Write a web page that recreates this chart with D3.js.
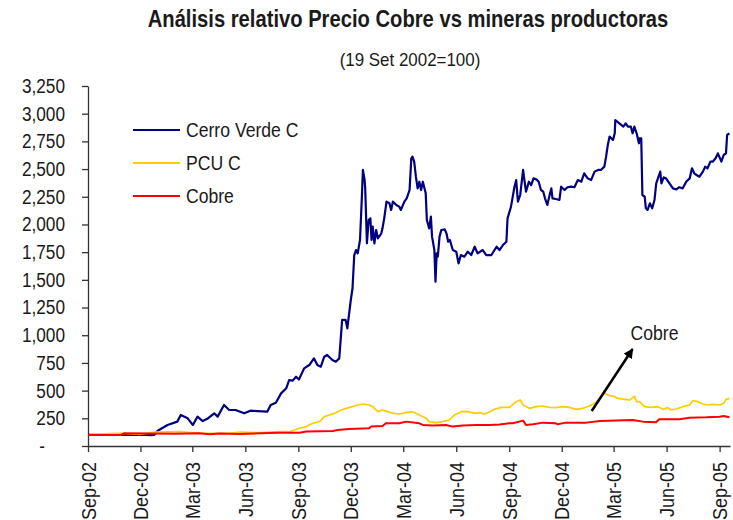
<!DOCTYPE html>
<html><head><meta charset="utf-8">
<script src="https://cdn.jsdelivr.net/npm/d3@7"></script>
<style>
body{margin:0;background:#fff}
svg text{font-family:"Liberation Sans Narrow","Arial Narrow","Liberation Sans",Arial,sans-serif;fill:#1a1a1a}
</style>
</head><body>
<svg id="chart" width="733" height="520"></svg>
<script>
const title = "Análisis relativo Precio Cobre vs mineras productoras";
const subtitle = "(19 Set 2002=100)";
const seriesNames = ["Cerro Verde C", "PCU C", "Cobre"];
const seriesColors = ["#000080", "#FFCC00", "#FF0000"];
const tickDates = ["2002-09-19","2002-12-19","2003-03-19","2003-06-19","2003-09-19","2003-12-19","2004-03-19","2004-06-19","2004-09-19","2004-12-19","2005-03-19","2005-06-19","2005-09-19"];
const tickLabels = ["Sep-02","Dec-02","Mar-03","Jun-03","Sep-03","Dec-03","Mar-04","Jun-04","Sep-04","Dec-04","Mar-05","Jun-05","Sep-05"];
const yTicks = [0,250,500,750,1000,1250,1500,1750,2000,2250,2500,2750,3000,3250];

const cvDates = ["2002-09-19","2002-11-15","2002-12-18","2003-01-06","2003-01-12","2003-01-18","2003-02-04","2003-02-21","2003-02-27","2003-03-11","2003-03-20","2003-03-28","2003-04-06","2003-04-14","2003-04-26","2003-05-02","2003-05-13","2003-05-22","2003-06-02","2003-06-17","2003-06-28","2003-07-10","2003-07-27","2003-08-02","2003-08-11","2003-08-20","2003-08-29","2003-09-03","2003-09-09","2003-09-15","2003-09-20","2003-09-29","2003-10-08","2003-10-16","2003-10-22","2003-10-28","2003-11-03","2003-11-08","2003-11-17","2003-11-23","2003-11-29","2003-12-04","2003-12-10","2003-12-13","2003-12-19","2003-12-22","2003-12-25","2003-12-28","2003-12-31","2004-01-04","2004-01-07","2004-01-09","2004-01-12","2004-01-13","2004-01-16","2004-01-19","2004-01-22","2004-01-24","2004-01-26","2004-01-29","2004-02-01","2004-02-04","2004-02-10","2004-02-12","2004-02-15","2004-02-19","2004-02-24","2004-02-27","2004-03-01","2004-03-07","2004-03-12","2004-03-15","2004-03-21","2004-03-25","2004-03-30","2004-04-02","2004-04-04","2004-04-07","2004-04-10","2004-04-13","2004-04-16","2004-04-19","2004-04-22","2004-04-27","2004-04-29","2004-05-03","2004-05-06","2004-05-08","2004-05-12","2004-05-14","2004-05-16","2004-05-18","2004-05-21","2004-05-24","2004-05-30","2004-06-02","2004-06-05","2004-06-08","2004-06-13","2004-06-19","2004-06-23","2004-06-27","2004-07-03","2004-07-09","2004-07-15","2004-07-21","2004-07-26","2004-08-04","2004-08-10","2004-08-19","2004-08-28","2004-09-02","2004-09-08","2004-09-14","2004-09-16","2004-09-22","2004-09-28","2004-10-01","2004-10-04","2004-10-08","2004-10-13","2004-10-16","2004-10-18","2004-10-23","2004-10-27","2004-10-31","2004-11-05","2004-11-09","2004-11-13","2004-11-17","2004-11-20","2004-11-24","2004-11-28","2004-12-01","2004-12-03","2004-12-09","2004-12-15","2004-12-18","2004-12-24","2004-12-29","2005-01-04","2005-01-10","2005-01-16","2005-01-22","2005-01-27","2005-02-02","2005-02-08","2005-02-14","2005-02-20","2005-02-25","2005-03-03","2005-03-06","2005-03-09","2005-03-12","2005-03-18","2005-03-21","2005-03-22","2005-03-29","2005-04-05","2005-04-09","2005-04-13","2005-04-18","2005-04-21","2005-04-24","2005-04-28","2005-05-02","2005-05-03","2005-05-06","2005-05-08","2005-05-12","2005-05-14","2005-05-17","2005-05-21","2005-05-25","2005-05-29","2005-06-01","2005-06-05","2005-06-08","2005-06-10","2005-06-14","2005-06-18","2005-06-24","2005-06-30","2005-07-06","2005-07-11","2005-07-17","2005-07-23","2005-07-29","2005-08-02","2005-08-06","2005-08-10","2005-08-15","2005-08-21","2005-08-25","2005-08-29","2005-09-03","2005-09-07","2005-09-12","2005-09-16","2005-09-22","2005-09-26","2005-09-30","2005-10-02","2005-10-06"];
const cvValues = [100,100,103,98,100,138,190,220,280,250,190,265,225,245,295,265,370,325,325,295,319,315,310,370,390,475,521,595,590,625,600,701,731,791,731,716,806,822,776,761,791,1138,1138,1062,1318,1424,1724,1769,1739,1860,2221,2492,2401,2326,1830,2040,2055,1860,1980,1830,1950,1875,1920,1965,2055,2206,2191,2131,2206,2176,2161,2131,2206,2236,2311,2597,2612,2567,2431,2326,2386,2311,2386,2281,2040,1965,2070,1890,1769,1483,1739,1709,1890,1950,1956,1920,1844,1860,1769,1754,1649,1724,1709,1754,1724,1799,1739,1769,1724,1724,1799,1769,1814,1844,2055,2161,2341,2401,2206,2266,2492,2371,2296,2386,2356,2416,2407,2386,2311,2296,2236,2176,2266,2326,2236,2230,2221,2341,2311,2336,2341,2336,2401,2386,2462,2416,2401,2477,2492,2492,2522,2612,2718,2793,2763,2823,2943,2913,2883,2913,2883,2883,2823,2883,2823,2733,2778,2778,2266,2251,2146,2131,2191,2146,2221,2371,2431,2477,2371,2425,2416,2371,2326,2316,2336,2326,2386,2416,2507,2462,2446,2431,2477,2522,2507,2567,2567,2597,2642,2567,2627,2642,2808,2823];

const pcuDates = ["2002-09-19","2002-10-23","2002-11-15","2002-12-18","2003-01-12","2003-02-26","2003-03-31","2003-05-23","2003-06-09","2003-07-14","2003-08-18","2003-09-05","2003-09-09","2003-09-21","2003-10-03","2003-10-14","2003-10-26","2003-11-03","2003-11-12","2003-11-21","2003-12-02","2003-12-11","2003-12-22","2003-12-31","2004-01-09","2004-01-20","2004-01-26","2004-02-04","2004-02-12","2004-02-21","2004-03-01","2004-03-12","2004-03-24","2004-04-04","2004-04-16","2004-04-28","2004-05-03","2004-05-15","2004-05-26","2004-06-07","2004-06-16","2004-06-27","2004-07-09","2004-07-21","2004-07-29","2004-08-07","2004-08-16","2004-08-24","2004-09-05","2004-09-19","2004-10-01","2004-10-08","2004-10-13","2004-10-24","2004-11-05","2004-11-16","2004-11-28","2004-12-09","2004-12-21","2005-01-01","2005-01-13","2005-01-24","2005-02-05","2005-02-14","2005-02-25","2005-03-03","2005-03-09","2005-03-18","2005-03-26","2005-04-07","2005-04-16","2005-04-24","2005-04-28","2005-05-03","2005-05-12","2005-05-23","2005-06-04","2005-06-13","2005-06-21","2005-06-27","2005-07-06","2005-07-17","2005-07-29","2005-08-03","2005-08-12","2005-08-21","2005-08-29","2005-09-07","2005-09-19","2005-09-26","2005-09-30","2005-10-06"];
const pcuValues = [100,112,115,105,125,130,115,115,125,120,130,130,138,160,175,205,220,265,280,295,325,340,355,370,379,370,355,310,325,310,295,289,301,310,280,250,220,211,220,235,280,310,310,295,301,289,310,331,349,349,400,415,370,340,355,361,349,346,355,349,331,340,361,385,439,481,460,451,430,421,415,451,400,400,355,349,355,331,346,325,334,355,370,409,400,379,370,376,370,385,421,430];

const cuDates = ["2002-09-19","2002-11-15","2002-11-21","2003-01-04","2003-02-16","2003-03-31","2003-04-18","2003-05-05","2003-06-09","2003-07-14","2003-08-18","2003-09-21","2003-10-03","2003-11-18","2003-11-26","2003-12-16","2004-01-20","2004-01-23","2004-02-12","2004-02-18","2004-03-12","2004-03-24","2004-04-16","2004-04-22","2004-05-09","2004-06-01","2004-06-13","2004-06-30","2004-07-24","2004-08-16","2004-09-02","2004-09-19","2004-09-25","2004-10-13","2004-10-18","2004-10-30","2004-11-16","2004-12-09","2004-12-12","2004-12-26","2005-01-31","2005-02-23","2005-04-21","2005-05-09","2005-06-01","2005-06-06","2005-07-11","2005-07-29","2005-08-27","2005-09-19","2005-09-26","2005-10-06"];
const cuValues = [100,100,115,112,110,115,105,112,108,115,120,120,130,135,144,153,160,175,181,205,205,220,205,190,184,190,175,184,190,190,195,205,205,229,190,196,211,205,196,211,211,226,235,220,214,241,241,256,259,265,271,259];

const annotText = "Cobre";
const annotFrom = ["2005-02-09", 316];
const annotTo = ["2005-04-21", 876];
const annotLabel = ["2005-05-29", 1020];

const parse = d3.timeParse("%Y-%m-%d");
const svg = d3.select("#chart");
const x = d3.scaleTime().domain([parse("2002-09-19"), parse("2005-10-07")]).range([88, 730]);
const y = d3.scaleLinear().domain([0, 3250]).range([446, 86]);

// Narrow-font look: squeeze text horizontally while keeping it as real text
function condense(sel, f) {
  sel.each(function () {
    const w = this.getComputedTextLength();
    this.setAttribute("textLength", (w * f).toFixed(1));
    this.setAttribute("lengthAdjust", "spacingAndGlyphs");
  });
}

// title: smaller font stretched vertically to mimic a narrow bold face
svg.append("text").attr("transform", "translate(408,27) scale(1,1.18)")
  .attr("text-anchor", "middle").attr("font-size", 20.2).attr("font-weight", "bold").text(title);
const tSub = svg.append("text").attr("x", 410).attr("y", 66).attr("text-anchor", "middle")
  .attr("font-size", 19).text(subtitle);

// axes
const yAxis = d3.axisLeft(y).tickValues(yTicks).tickSize(6).tickSizeOuter(0).tickPadding(17)
  .tickFormat(d => d === 0 ? "-" : d3.format(",")(d));
const gy = svg.append("g").attr("transform", "translate(88,0)").call(yAxis);
gy.selectAll("text").attr("font-size", 20).attr("font-family", null).style("fill", "#1a1a1a");
gy.selectAll(".tick").filter(d => d === 0).select("text").attr("dx", -20);
gy.selectAll("path,line").attr("stroke", "#333").attr("stroke-width", 1.3);

const xAxis = d3.axisBottom(x).tickValues(tickDates.map(parse)).tickSize(6).tickSizeOuter(0)
  .tickFormat((d, i) => tickLabels[i]);
const gx = svg.append("g").attr("transform", "translate(0,446)").call(xAxis);
gx.selectAll("text").attr("font-size", 20).attr("font-family", null).style("fill", "#1a1a1a")
  .attr("transform", "rotate(-90)").attr("text-anchor", "end")
  .attr("x", -16).attr("y", 0).attr("dy", "0.36em");
gx.selectAll("path,line").attr("stroke", "#333").attr("stroke-width", 1.3);

// series
const series = [
  {dates: cvDates, values: cvValues, w: 2.2},
  {dates: pcuDates, values: pcuValues, w: 1.7},
  {dates: cuDates, values: cuValues, w: 2}
];
const line = d3.line().x(d => x(d[0])).y(d => y(d[1]));
series.forEach((s, i) => {
  const pts = s.dates.map((d, j) => [parse(d), s.values[j]]);
  svg.append("path").datum(pts).attr("d", line).attr("fill", "none")
    .attr("stroke", seriesColors[i]).attr("stroke-width", s.w).attr("stroke-linejoin", "round");
});

// legend
const legY = [130, 163, 196];
const legTexts = [];
seriesNames.forEach((n, i) => {
  svg.append("line").attr("x1", 133).attr("x2", 180).attr("y1", legY[i]).attr("y2", legY[i])
    .attr("stroke", seriesColors[i]).attr("stroke-width", 2);
  legTexts.push(svg.append("text").attr("x", 186).attr("y", legY[i]).attr("dy", "0.36em")
    .attr("font-size", 20).text(n).node());
});

// annotation
svg.append("defs").append("marker").attr("id", "arr").attr("viewBox", "0 0 10 10")
  .attr("refX", 9).attr("refY", 5).attr("markerWidth", 4).attr("markerHeight", 4)
  .attr("orient", "auto").append("path").attr("d", "M0,0L10,5L0,10z").attr("fill", "#000");
svg.append("line")
  .attr("x1", x(parse(annotFrom[0]))).attr("y1", y(annotFrom[1]))
  .attr("x2", x(parse(annotTo[0]))).attr("y2", y(annotTo[1]))
  .attr("stroke", "#000").attr("stroke-width", 2.5).attr("marker-end", "url(#arr)");
const tAnn = svg.append("text").attr("x", x(parse(annotLabel[0]))).attr("y", y(annotLabel[1])).attr("dy", "0.36em")
  .attr("text-anchor", "middle").attr("font-size", 20).text(annotText);

condense(tSub, 0.89);
condense(gy.selectAll("text"), 0.86);
condense(gx.selectAll("text"), 0.9);
condense(d3.selectAll(legTexts), 0.88);
condense(tAnn, 0.88);
</script>
</body></html>
